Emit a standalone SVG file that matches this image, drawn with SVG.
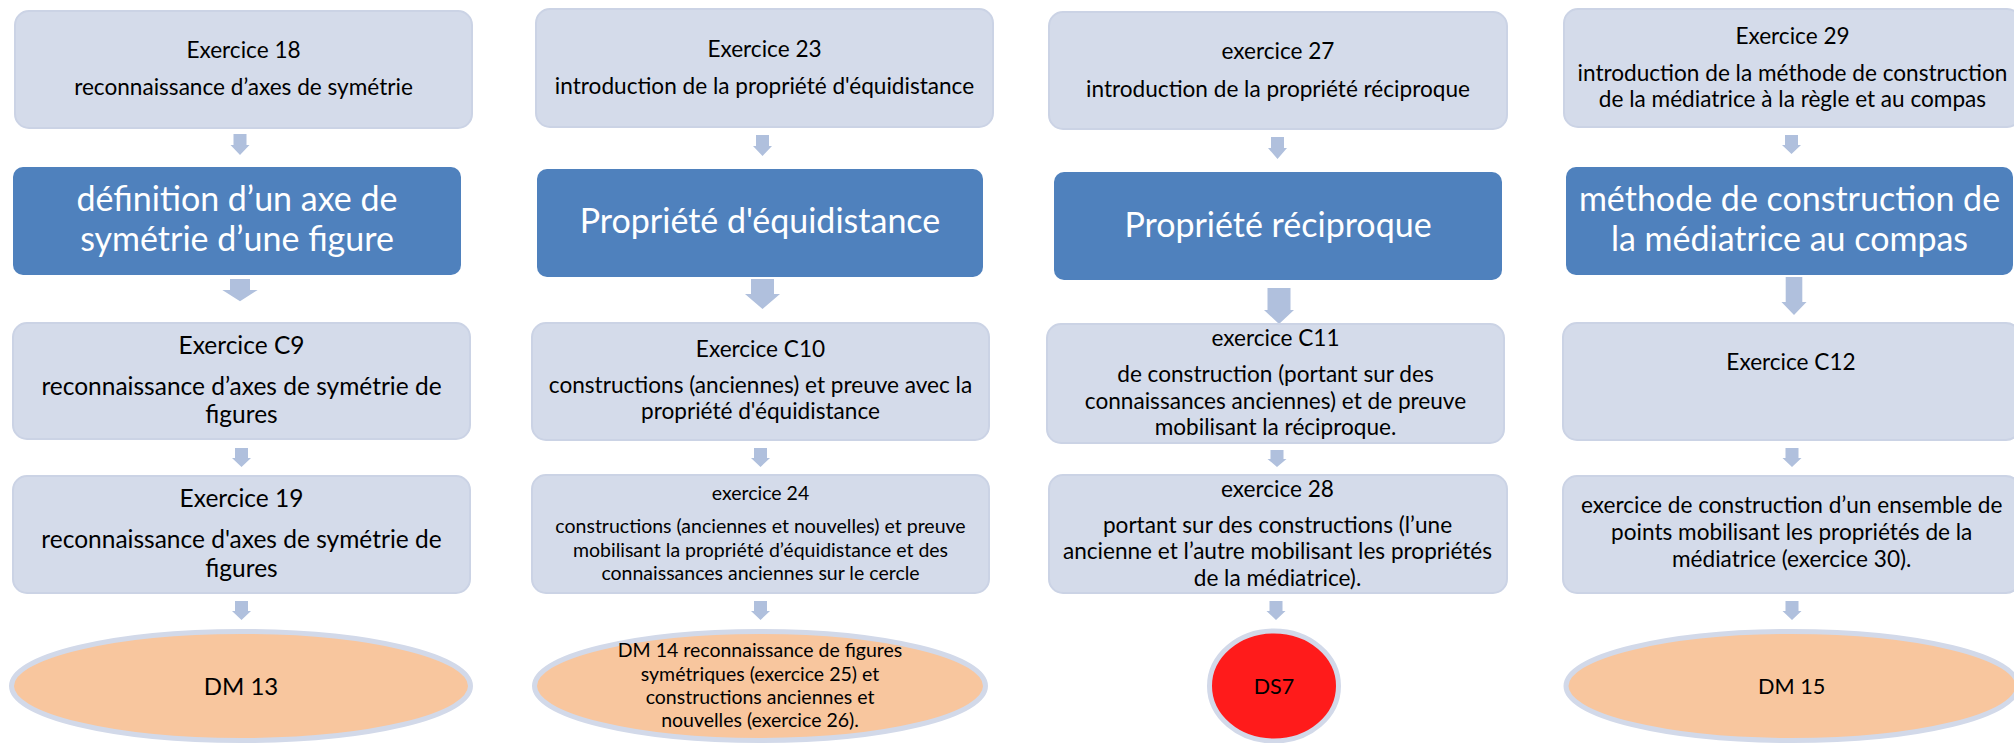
<svg xmlns="http://www.w3.org/2000/svg" width="2014" height="743" viewBox="0 0 2014 743">
<style>
.lb{fill:#D4DBEA;stroke:#CBD3E5;stroke-width:2}
.db{fill:#4F81BD}
.ov{fill:#F8C69E;stroke:#D2D9E9;stroke-width:5}
.ds{fill:#FF1B1B;stroke:#D2D9E9;stroke-width:5}
.arr{fill:#B0C0DD}
text{font-family:Lato,"Open Sans","Liberation Sans",sans-serif;text-anchor:middle;fill:#000}
.w{fill:#FFFFFF;font-size:34px}
.s22{font-size:22.6px}
.s24{font-size:24.5px}
.s19{font-size:19.5px}
</style>
<rect width="2014" height="743" fill="#FFFFFF"/>
<g id="connectors">
<path class="arr" d="M233.5,134 H246.5 V145 H249.5 L240,155 L230.5,145 H233.5 Z"/>
<path class="arr" d="M756,135 H769 V146 H772 L762.5,156 L753,146 H756 Z"/>
<path class="arr" d="M1271,137 H1284 V148 H1287 L1277.5,159 L1268,148 H1271 Z"/>
<path class="arr" d="M1785,135 H1798 V145 H1801 L1791.5,154 L1782,145 H1785 Z"/>
<path class="arr" d="M230,279 H250 V290 H257.7 L240,301.3 L222.3,290 H230 Z"/>
<path class="arr" d="M751,279 H774 V294 H780 L762.5,309 L745,294 H751 Z"/>
<path class="arr" d="M1267.5,288 H1290.5 V310 H1294 L1279,324 L1264,310 H1267.5 Z"/>
<path class="arr" d="M1785.7,277 H1802.3 V302 H1806.5 L1794,315 L1781.5,302 H1785.7 Z"/>
<path class="arr" d="M235,448 H248 V458 H251 L241.5,467 L232,458 H235 Z"/>
<path class="arr" d="M754,448 H767 V458 H770 L760.5,467 L751,458 H754 Z"/>
<path class="arr" d="M1270.5,450 H1283.5 V459 H1286.5 L1277,467 L1267.5,459 H1270.5 Z"/>
<path class="arr" d="M1785.5,448 H1798.5 V458 H1801.5 L1792,467 L1782.5,458 H1785.5 Z"/>
<path class="arr" d="M235,601 H248 V611 H251 L241.5,620 L232,611 H235 Z"/>
<path class="arr" d="M754,601 H767 V611 H770 L760.5,620 L751,611 H754 Z"/>
<path class="arr" d="M1269.5,601 H1282.5 V611 H1285.5 L1276,620 L1266.5,611 H1269.5 Z"/>
<path class="arr" d="M1785.5,601 H1798.5 V611 H1801.5 L1792,620 L1782.5,611 H1785.5 Z"/>
</g>
<g id="n1">
<rect class="lb" x="15" y="11" width="457" height="117" rx="14"/>
<text class="s22" x="243.5" y="58">Exercice 18</text>
<text class="s22" x="243.5" y="95">reconnaissance d’axes de symétrie</text>
</g>
<g id="n2">
<rect class="db" x="13" y="167" width="448" height="108" rx="10"/>
<text class="w" x="237" y="211">définition d’un axe de</text>
<text class="w" x="237" y="251">symétrie d’une figure</text>
</g>
<g id="n3">
<rect class="lb" x="13" y="323" width="457" height="116" rx="14"/>
<text class="s24" x="241.5" y="354">Exercice C9</text>
<text class="s24" x="241.5" y="395">reconnaissance d’axes de symétrie de</text>
<text class="s24" x="241.5" y="423">figures</text>
</g>
<g id="n4">
<rect class="lb" x="13" y="476" width="457" height="117" rx="14"/>
<text class="s24" x="241.5" y="507">Exercice 19</text>
<text class="s24" x="241.5" y="548">reconnaissance d'axes de symétrie de</text>
<text class="s24" x="241.5" y="577">figures</text>
</g>
<g id="n5">
<ellipse class="ov" cx="241" cy="686" rx="229.5" ry="54.5"/>
<text x="241" y="695" font-size="24px">DM 13</text>
</g>
<g id="n6">
<rect class="lb" x="536" y="9" width="457" height="118" rx="14"/>
<text class="s22" x="764.5" y="57">Exercice 23</text>
<text class="s22" x="764.5" y="94">introduction de la propriété d'équidistance</text>
</g>
<g id="n7">
<rect class="db" x="537" y="169" width="446" height="108" rx="10"/>
<text class="w" x="760" y="233">Propriété d'équidistance</text>
</g>
<g id="n8">
<rect class="lb" x="532" y="323" width="457" height="117" rx="14"/>
<text class="s22" x="760.5" y="357">Exercice C10</text>
<text class="s22" x="760.5" y="393">constructions (anciennes) et preuve avec la</text>
<text class="s22" x="760.5" y="419">propriété d'équidistance</text>
</g>
<g id="n9">
<rect class="lb" x="532" y="475" width="457" height="118" rx="14"/>
<text class="s19" x="760.5" y="500">exercice 24</text>
<text class="s19" x="760.5" y="533">constructions (anciennes et nouvelles) et preuve</text>
<text class="s19" x="760.5" y="557">mobilisant la propriété d’équidistance et des</text>
<text class="s19" x="760.5" y="580">connaissances anciennes sur le cercle</text>
</g>
<g id="n10">
<ellipse class="ov" cx="760" cy="686" rx="225.5" ry="54.5"/>
<text class="s19" x="760" y="657">DM 14 reconnaissance de figures</text>
<text class="s19" x="760" y="681">symétriques (exercice 25) et</text>
<text class="s19" x="760" y="704">constructions anciennes et</text>
<text class="s19" x="760" y="727">nouvelles (exercice 26).</text>
</g>
<g id="n11">
<rect class="lb" x="1049" y="12" width="458" height="117" rx="14"/>
<text class="s22" x="1278" y="59">exercice 27</text>
<text class="s22" x="1278" y="97">introduction de la propriété réciproque</text>
</g>
<g id="n12">
<rect class="db" x="1054" y="172" width="448" height="108" rx="10"/>
<text class="w" x="1278" y="237">Propriété réciproque</text>
</g>
<g id="n13">
<rect class="lb" x="1047" y="324" width="457" height="119" rx="14"/>
<text class="s22" x="1275.5" y="346">exercice C11</text>
<text class="s22" x="1275.5" y="382">de construction (portant sur des</text>
<text class="s22" x="1275.5" y="409">connaissances anciennes) et de preuve</text>
<text class="s22" x="1275.5" y="435">mobilisant la réciproque.</text>
</g>
<g id="n14">
<rect class="lb" x="1049" y="475" width="458" height="118" rx="14"/>
<text class="s22" x="1277.5" y="497">exercice 28</text>
<text class="s22" x="1277.5" y="533">portant sur des constructions (l’une</text>
<text class="s22" x="1277.5" y="559">ancienne et l’autre mobilisant les propriétés</text>
<text class="s22" x="1277.5" y="586">de la médiatrice).</text>
</g>
<g id="n15">
<ellipse class="ds" cx="1274" cy="686" rx="64.5" ry="55"/>
<text x="1274" y="694" font-size="21.5px">DS7</text>
</g>
<g id="n16">
<rect class="lb" x="1564" y="9" width="457" height="118" rx="14"/>
<text class="s22" x="1792.5" y="44">Exercice 29</text>
<text class="s22" x="1792.5" y="81">introduction de la méthode de construction</text>
<text class="s22" x="1792.5" y="107">de la médiatrice à la règle et au compas</text>
</g>
<g id="n17">
<rect class="db" x="1566" y="167" width="447" height="108" rx="10"/>
<text class="w" x="1789.5" y="211">méthode de construction de</text>
<text class="w" x="1789.5" y="251">la médiatrice au compas</text>
</g>
<g id="n18">
<rect class="lb" x="1563" y="323" width="457" height="117" rx="14"/>
<text class="s22" x="1791" y="370">Exercice C12</text>
</g>
<g id="n19">
<rect class="lb" x="1563" y="476" width="457" height="117" rx="14"/>
<text class="s22" x="1791.7" y="513">exercice de construction d’un ensemble de</text>
<text class="s22" x="1791.7" y="540">points mobilisant les propriétés de la</text>
<text class="s22" x="1791.7" y="567">médiatrice (exercice 30).</text>
</g>
<g id="n20">
<ellipse class="ov" cx="1792" cy="686" rx="226" ry="54.5"/>
<text x="1791.7" y="694" font-size="21.7px">DM 15</text>
</g>
</svg>
